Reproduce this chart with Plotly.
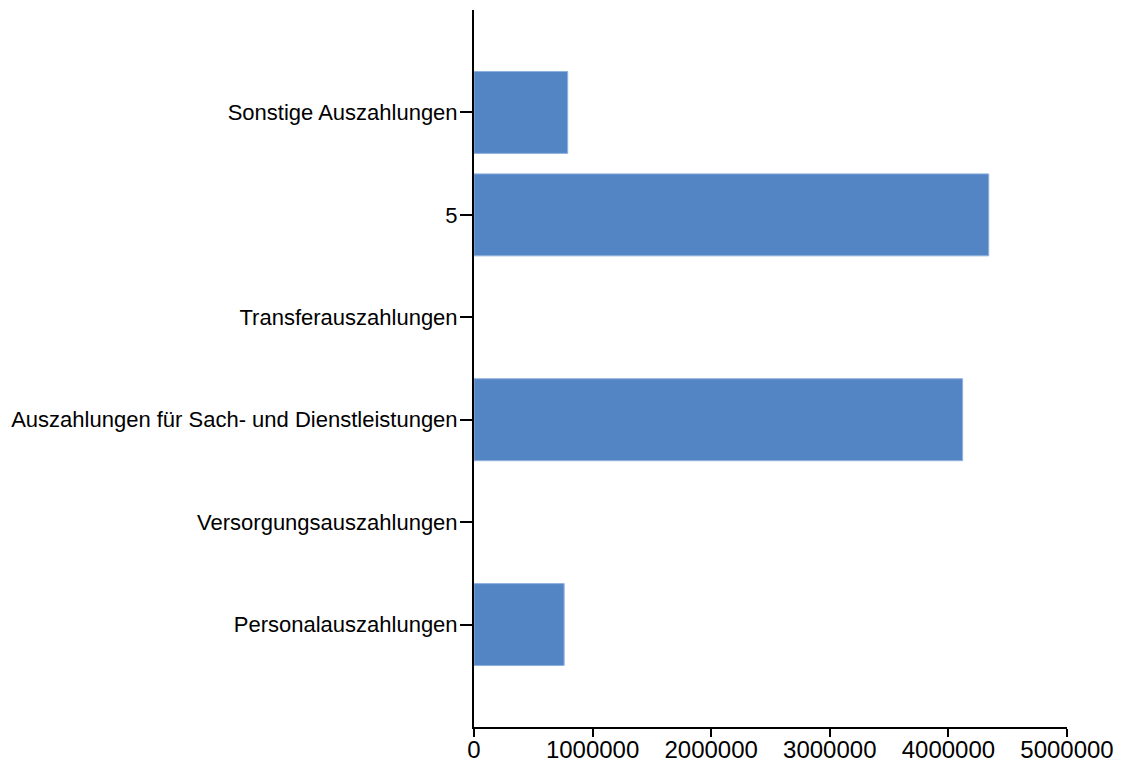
import plotly.graph_objects as go

# Kategorien von unten nach oben
categories = [
    'Personalauszahlungen',
    'Versorgungsauszahlungen',
    'Auszahlungen für Sach- und Dienstleistungen',
    'Transferauszahlungen',
    '5',
    'Sonstige Auszahlungen',
]
values = [760000, 0, 4120000, 0, 4340000, 790000]
x_ticks = [0, 1000000, 2000000, 3000000, 4000000, 5000000]

fig = go.Figure()

fig.add_trace(go.Bar(
    y=categories,
    x=values,
    orientation='h',
    width=0.8,
    marker=dict(
        color='#5385c5',
        line=dict(color='#8fb0dd', width=[1 if v > 0 else 0 for v in values]),
    ),
    showlegend=False,
))

# die Seite hat 8px Rand, daher Ränder entsprechend verschoben
fig.update_layout(
    width=1122,
    height=762,
    margin=dict(l=466, r=63, t=2, b=43),
    plot_bgcolor='white',
    paper_bgcolor='white',
    font=dict(family='Liberation Sans, Arial, sans-serif', size=22, color='#000000'),
    xaxis=dict(
        range=[0, 5000000],
        tickvals=x_ticks,
        ticktext=[str(v) for v in x_ticks],
        showgrid=False,
        zeroline=False,
        showline=True,
        linecolor='black',
        linewidth=2,
        ticks='outside',
        ticklen=8,
        tickwidth=2,
        tickcolor='black',
        tickfont=dict(size=24),
        ticklabelstandoff=-8,
        automargin=False,
    ),
    yaxis=dict(
        type='category',
        categoryorder='array',
        categoryarray=categories,
        range=[-1, 6],
        showgrid=False,
        zeroline=False,
        showline=True,
        linecolor='black',
        linewidth=2,
        ticks='outside',
        ticklen=12,
        tickwidth=2,
        tickcolor='black',
        ticklabelstandoff=-2,
        automargin=False,
    ),
)

fig.write_html('out.html')
